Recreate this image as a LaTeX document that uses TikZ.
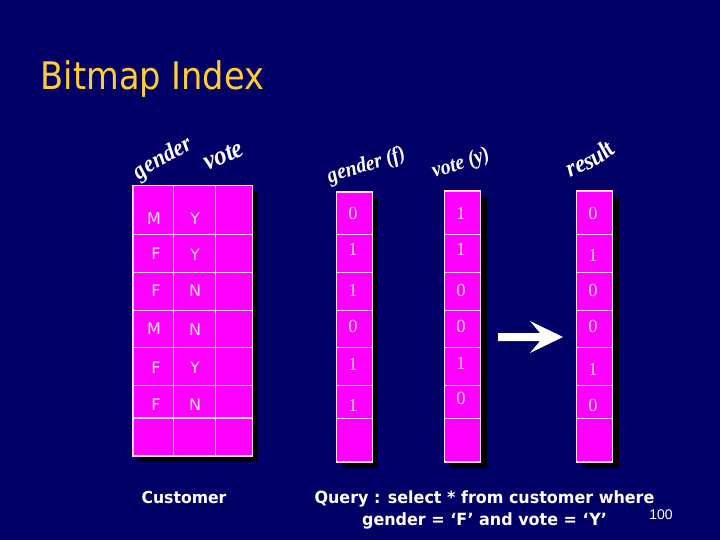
\documentclass[tikz,border=0pt]{standalone}
\usepackage{fontspec}
\setmainfont{DejaVu Sans}
\newfontfamily\serifnum{Liberation Serif}
\newfontfamily\artfont[FakeStretch=0.92]{Liberation Serif}
\newfontfamily\pagefont{Liberation Sans}
\newfontfamily\titlefont[FakeStretch=0.885]{DejaVu Sans}
\newfontfamily\captfont[FakeStretch=0.95]{DejaVu Sans}
\usetikzlibrary{decorations.text}
\definecolor{bgblue}{RGB}{0,0,102}
\definecolor{cellpink}{RGB}{255,0,255}
\definecolor{cellline}{RGB}{255,215,255}
\definecolor{titlegold}{RGB}{255,204,51}
\tikzset{
  cellrule/.style={draw=cellline,line width=1.1pt},
  lett/.style={text=white!90!cellpink,font=\fontsize{16}{18}\selectfont,inner sep=0pt},
  digit/.style={text=cellline,font=\serifnum\fontsize{18.5}{20}\selectfont,inner sep=0pt},
  capt/.style={text=white,font=\captfont\bfseries\fontsize{16.5}{22}\selectfont,inner sep=0pt},
}
\newcommand{\artlabel}[3]{\path[decorate,decoration={text along path,text align=center,
   text={|\artfont\bfseries\itshape\color{white}\fontsize{#1}{#1}\selectfont|#3}}] #2;}
\begin{document}
\begin{tikzpicture}[x=1pt,y=-1pt]
\fill[bgblue] (0,0) rectangle (720,540);
\useasboundingbox (0,0) rectangle (720,540);
% title
\node[text=titlegold,font=\titlefont\fontsize{38}{40}\selectfont,anchor=base west,inner sep=0pt] (title) at (40.5,90) {Bitmap Index};
% table
\fill[black] (139,191) rectangle (258,462);
\fill[cellpink] (133,185.5) rectangle (252.5,456);
\foreach \yy in {234.3,272.7,310.7,347.5,385.5,418}{\draw[cellrule] (133,\yy) -- (252.5,\yy);}
\foreach \xx in {173.5,215.5}{\draw[cellrule] (\xx,185.5) -- (\xx,456);}
\draw[cellrule] (133,185.5) rectangle (252.5,456);
% columns
\foreach \xl/\xr/\yt in {336.7/372.3/192,444.3/480.7/191,576.7/612.7/191}{
  \fill[black] (\xl+6,\yt+6) rectangle (\xr+6,468);
  \fill[cellpink] (\xl,\yt) rectangle (\xr,462);
  \foreach \yy in {234.3,272.7,310.7,347.5,385.5,418.5}{\draw[cellrule] (\xl,\yy) -- (\xr,\yy);}
  \draw[cellrule] (\xl,\yt) rectangle (\xr,462);
}
% table letters
\foreach \nm/\xx/\yy/\tt in {a/154/219/M,b/195/219/Y,c/156/254/F,d/195/255/Y,e/156/291/F,f/195/291/N,
  g/154/329/M,h/195/330/N,i/156/368/F,j/195/368/Y,k/156/405/F,l/195/405/N}{
  \node[lett] (L\nm) at (\xx,\yy) {\tt};
}
% digits
\foreach \nm/\xx/\yy/\tt in {a/353/213/0,b/353/249/1,c/353/290/1,d/353/326/0,e/353/364/1,f/353/405/1,
  g/461/213/1,h/461/249/1,i/461/290/0,j/461/326/0,k/461/363/1,l/461/398/0,
  m/593/213/0,n/593/255/1,o/593/290/0,p/593/326/0,q/593/369/1,r/593/405/0}{
  \node[digit] (D\nm) at (\xx,\yy) {\tt};
}
% WordArt labels
\artlabel{24}{(139,181) .. controls (150,170) and (170,162) .. (194,148)}{gender}
\artlabel{27}{(204,172) .. controls (215,167) and (232,162) .. (249,152)}{vote}
\artlabel{21.5}{(330,184) .. controls (350,174) and (380,170) .. (407,158)}{gender (f)}
\artlabel{21.5}{(431,179) .. controls (450,172) and (470,168) .. (494,157)}{vote (y)}
\artlabel{25}{(569,178) .. controls (585,170) and (600,168) .. (617,151)}{result}
% arrow
\fill[white] (498,333) -- (540,333) -- (530,321) -- (563,337) -- (530,353) -- (540,341) -- (498,341) -- cycle;
% captions
\node[capt] (cust) at (184,497) {Customer};
\node[capt,font=\captfont\bfseries\fontsize{16.8}{22}\selectfont,align=center] (query) at (484.5,510) {Query : select * from customer where\\gender = ‘F’ and vote = ‘Y’};
\node[text=white,font=\pagefont\fontsize{14}{16}\selectfont,inner sep=0pt] (pg) at (661,515) {100};
\end{tikzpicture}
\end{document}
